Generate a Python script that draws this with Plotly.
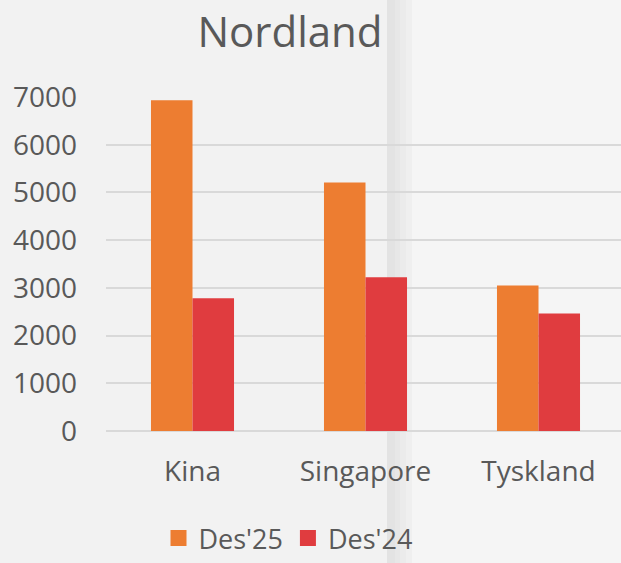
import plotly.graph_objects as go

categories = ["Kina", "Singapore", "Tyskland"]
des25 = [6930, 5210, 3050]
des24 = [2780, 3220, 2460]
yticks = [0, 1000, 2000, 3000, 4000, 5000, 6000, 7000]
series_names = ["Des'25", "Des'24"]
series_colors = ["#ED7D31", "#E03C3F"]

W, H = 621, 563
L, R, T, B = 106, 0, 97, 132
pw = W - L - R
ph = H - T - B

FONT = "Open Sans"
TXT = "#595959"

fig = go.Figure()
for name, vals, col in zip(series_names, [des25, des24], series_colors):
    fig.add_bar(x=categories, y=vals, name=name, marker_color=col, marker_line_width=0,
                showlegend=False, legendgroup=name)
# legend-only entries with larger square swatches
for name, col in zip(series_names, series_colors):
    fig.add_scatter(x=[None], y=[None], mode="markers", name=name, legendgroup=name,
                    marker=dict(symbol="square", size=18, color=col))

def px2x(px):
    return (px - L) / pw

ybot = -B / ph
ytop = 1 + T / ph
shapes = []
strip = [(387, 395, "#E3E3E3"), (395, 400, "#E7E7E7"), (400, 406, "#EBEBEB"), (406, 412, "#EFEFEF"), (412, 622, "#F5F5F5")]
for a, b, c in strip:
    shapes.append(dict(type="rect", xref="paper", yref="paper", x0=px2x(a), x1=px2x(b),
                       y0=ybot, y1=ytop, fillcolor=c, line_width=0, layer="below"))

fig.update_layout(
    width=W, height=H,
    margin=dict(l=L, r=R, t=T, b=B, pad=0, autoexpand=False),
    paper_bgcolor="#F2F2F2",
    plot_bgcolor="rgba(0,0,0,0)",
    barmode="group", bargap=0.52, bargroupgap=0,
    font=dict(family=FONT, color=TXT, size=28),
    title=dict(text="Nordland", x=290 / W, xref="container", xanchor="center",
               y=1 - 32 / H, yref="container", yanchor="middle",
               font=dict(size=42, color=TXT, family=FONT)),
    showlegend=True,
    legend=dict(orientation="h", x=288 / W, xref="container", xanchor="center",
                y=0, yref="container", yanchor="bottom",
                font=dict(size=27, color=TXT), itemwidth=30, itemsizing="trace",
                bgcolor="rgba(0,0,0,0)", tracegroupgap=0),
    shapes=shapes,
    xaxis=dict(range=[-0.5, -0.5 + pw / 173.0], showgrid=False, showline=False, zeroline=False,
               tickfont=dict(size=28, color=TXT), ticks="", ticklabelstandoff=21, fixedrange=True),
    yaxis=dict(range=[0, 7000], tickvals=yticks, showgrid=True, gridcolor="#D9D9D9", gridwidth=2,
               zeroline=True, zerolinecolor="#D9D9D9", zerolinewidth=2, showline=False,
               tickfont=dict(size=28, color=TXT), ticks="", ticklabelstandoff=28),
)

fig.write_html("out.html", config={"displayModeBar": False},
               post_script="document.body.style.margin='0';document.body.style.overflow='hidden';")
